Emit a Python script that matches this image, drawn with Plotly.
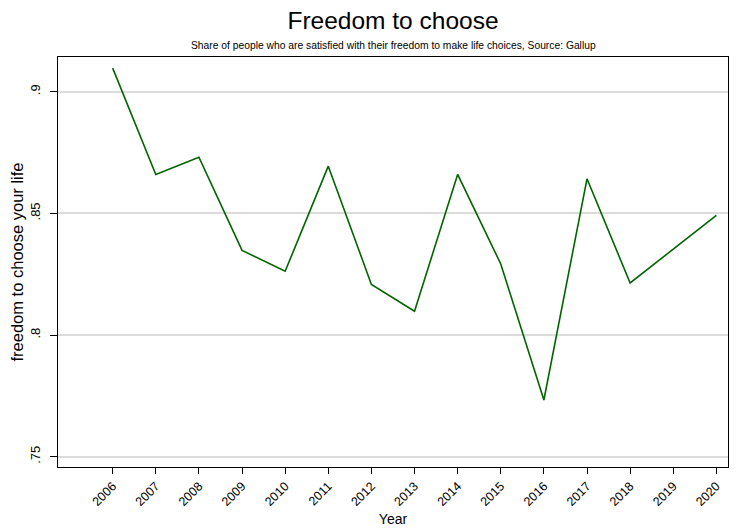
import plotly.graph_objects as go

years = [2006, 2007, 2008, 2009, 2010, 2011, 2012, 2013, 2014, 2015, 2016, 2017, 2018, 2019, 2020]
freedom = [0.9097, 0.8660, 0.8731, 0.8348, 0.8262, 0.8694, 0.8208, 0.8098, 0.8660, 0.8292,
           0.7733, 0.8642, 0.8214, 0.8353, 0.8492]
y_ticks = [0.75, 0.8, 0.85, 0.9]
y_ticklabels = ['.75', '.8', '.85', '.9']

# page body has an 8px margin, so the figure is sized to fit the 738x530 window
W, H = 730, 522

fig = go.Figure()

fig.add_trace(
    go.Scatter(
        x=years,
        y=freedom,
        mode='lines',
        line=dict(color='#006400', width=1.6),
        showlegend=False,
    ),
)

fig.update_layout(
    title=dict(
        text='Freedom to choose',
        x=385 / W,
        xanchor='center',
        y=1 - 12.5 / H,
        yanchor='middle',
        automargin=False,
        font=dict(size=24.5, color='black'),
    ),
    annotations=[
        dict(
            x=0.5,
            y=1 + 11 / 410,
            xref='paper',
            yref='paper',
            xanchor='center',
            yanchor='middle',
            text='Share of people who are satisfied with their freedom to make life choices, Source: Gallup',
            showarrow=False,
            font=dict(size=10.3, color='black'),
        ),
    ],
    xaxis=dict(
        range=[2004.732, 2020.27],
        tickmode='array',
        tickvals=years,
        ticktext=[str(y) for y in years],
        tickangle=-45,
        ticks='outside',
        ticklen=6,
        tickcolor='black',
        showgrid=False,
        zeroline=False,
        showline=True,
        linecolor='black',
        linewidth=1,
        mirror=True,
        automargin=False,
        tickfont=dict(size=12.5, color='black'),
        title=dict(text='Year', font=dict(size=14, color='black'), standoff=6),
    ),
    yaxis=dict(
        range=[0.74577, 0.91426],
        tickmode='array',
        tickvals=y_ticks,
        ticktext=y_ticklabels,
        tickangle=-90,
        ticks='outside',
        ticklen=7,
        ticklabelstandoff=5,
        tickcolor='black',
        showgrid=True,
        gridcolor='#dcdcdc',
        gridwidth=1.5,
        zeroline=False,
        showline=True,
        linecolor='black',
        linewidth=1,
        mirror=True,
        automargin=False,
        tickfont=dict(size=13, color='black'),
        title=dict(text='freedom to choose your life', font=dict(size=16.5, color='black'), standoff=6),
    ),
    width=W,
    height=H,
    margin=dict(l=50, r=10, t=49, b=63),
    paper_bgcolor='white',
    plot_bgcolor='white',
    font=dict(family='Liberation Sans, Arial, sans-serif', color='black'),
)

fig.write_html('out.html')
